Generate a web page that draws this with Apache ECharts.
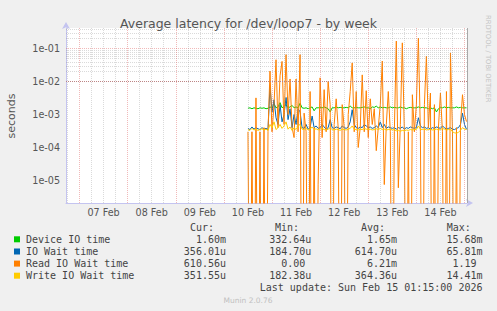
<!DOCTYPE html>
<html><head><meta charset="utf-8">
<script src="https://cdn.jsdelivr.net/npm/echarts@6/dist/echarts.min.js"></script>
<style>html,body{margin:0;padding:0;background:#f0f0f0}#c{width:497px;height:311px}</style>
</head><body><div id="c"></div>
<script>
// ---- data (milliseconds), one sample per hour from 10 Feb 12:00 ----
const firstSample = Date.UTC(2026, 1, 10, 12, 0);
const sampleStepMs = 3600000;
const axisStart = Date.UTC(2026, 1, 6, 17, 15);
const axisEnd = Date.UTC(2026, 1, 15, 1, 15);

const deviceIO_ms = [
  1.55,1.6,1.5,1.6,1.55,1.5,1.6,1.55,1.6,1.5,1.55,
  1.7,1.6,2.1,1.6,1.7,2.3,1.6,1.8,2.0,1.6,1.7,1.9,1.6,1.7,1.6,2.2,
  1.6,1.55,1.6,1.5,1.6,1.7,1.3,1.6,1.6,1.65,1.6,1.7,1.6,1.5,1.2,1.6,1.6,1.7,1.6,1.65,1.6,
  1.6,1.65,1.6,1.8,1.6,1.6,1.65,1.6,1.6,1.65,1.7,1.6,
  1.6,1.5,1.7,1.65,1.8,1.6,1.7,1.6,1.65,1.6,1.6,1.7,1.6,1.65,1.6,1.6,1.7,1.6,1.6,1.5,1.6,1.65,1.6,1.6,
  1.6,1.7,1.6,1.65,1.6,1.6,1.5,1.6,1.5,1.6,1.2,1.5,1.65,1.6,1.7,1.6,1.65,1.6,1.6,1.6,1.7,1.6,1.65,1.6,1.6,1.6
];
const ioWait_ms = [
  0.38,0.35,0.42,0.36,0.40,0.37,0.35,0.40,0.36,0.38,0.35,
  7.4,1.2,2.8,0.8,0.5,2.0,0.6,1.0,3.3,0.7,1.5,0.4,1.0,0.5,1.5,1.2,
  0.4,0.38,0.5,0.36,0.4,0.9,0.4,0.45,0.38,0.4,0.5,0.42,0.36,0.4,0.7,0.4,0.38,0.42,0.4,0.37,0.45,
  0.4,0.38,0.42,0.6,1.4,0.5,0.4,0.38,0.42,0.4,0.5,0.45,
  0.4,0.42,0.38,0.4,0.45,0.4,0.6,0.4,0.5,0.38,0.42,0.4,0.38,0.4,0.36,0.4,0.38,0.42,0.36,0.4,0.38,0.42,0.4,0.38,
  0.4,0.8,0.45,0.4,0.42,0.38,0.4,0.36,0.4,0.38,0.42,0.4,0.38,0.45,0.4,0.36,0.38,0.4,0.36,0.35,0.38,0.4,0.5,1.1,0.5,0.356
];
const readWait_ms = [
  0.3,0,0.3,0,3.2,0,0.3,0,0.4,0,0.3,
  21,0.3,2,46,0.4,15,41,0.5,66,1,12,0.4,0.2,12,0.3,66,
  0,1.1,0.3,0,5,0,0.4,0,0.0077,13,0.2,5.7,0.3,10,2,0,0.5,3,0.4,0,2,
  0.4,0,1,5,37,0.3,5,0.1,0.4,16,0.3,5.3,
  0.2,3,0.5,1.5,0.08,0.4,2,42,0.0075,0.5,5,0.3,0,0.3,170,0.006,0.5,150,0.3,0,0.3,0,4,0.3,
  2,210,0.3,0,2,59,0.4,4.5,0,2,0,0.4,4.5,0.3,0,5,0,74,0.3,0,0.4,0,0.5,4,1,0.61056
];
const writeWait_ms = [
  0.35,0.33,0.38,0.34,0.36,0.33,0.35,0.37,0.34,0.36,0.33,
  0.5,0.4,0.6,0.35,0.4,0.5,0.38,0.45,0.6,0.36,0.42,0.33,0.4,0.35,0.45,0.5,
  0.36,0.35,0.4,0.34,0.36,0.42,0.35,0.37,0.34,0.36,0.38,0.35,0.34,0.36,0.4,0.35,0.34,0.36,0.35,0.33,0.36,
  0.35,0.34,0.36,0.38,0.45,0.36,0.35,0.34,0.36,0.35,0.38,0.36,
  0.35,0.36,0.34,0.35,0.37,0.35,0.38,0.35,0.36,0.34,0.35,0.36,0.34,0.35,0.32,0.33,0.31,0.33,0.32,0.34,0.33,0.35,0.34,0.35,
  0.35,0.45,0.36,0.35,0.37,0.34,0.35,0.36,0.34,0.35,0.36,0.34,0.35,0.38,0.36,0.34,0.35,0.36,0.30,0.28,0.27,0.29,0.33,0.40,0.36,0.3516
];

const seriesNames = ['Device IO time', 'IO Wait time', 'Read IO Wait time', 'Write IO Wait time'];
const seriesColors = ['#00cc00', '#0066b3', '#ff8000', '#ffcc00'];
const curVals = ['1.60m', '356.01u', '610.56u', '351.55u'];
const minVals = ['332.64u', '184.70u', '0.00', '182.38u'];
const avgVals = ['1.65m', '614.70u', '6.21m', '364.36u'];
const maxVals = ['15.68m', '65.81m', '1.19', '14.41m'];
const colHeaders = ['Cur:', 'Min:', 'Avg:', 'Max:'];
const dayLabelTimes = [7,8,9,10,11,12,13,14].map(d => Date.UTC(2026, 1, d, 12, 0));
const monthNames = ['Jan','Feb','Mar','Apr','May','Jun','Jul','Aug','Sep','Oct','Nov','Dec'];
const yMin = 2.065e-6, yMax = 0.4236;
const titleText = 'Average latency for /dev/loop7 - by week';
const lastUpdate = 'Last update: Sun Feb 15 01:15:00 2026';

// ---- build ----
function toSeries(arr) {
  return arr.map((v, i) => [firstSample + i * sampleStepMs, v === 0 ? 1e-12 : v * 1e-3]);
}
const gridMajor = { color: 'rgba(225,100,100,0.45)', type: [1, 1], width: 1 };
const gridMinor = { color: 'rgba(150,150,150,0.35)', type: [1, 1], width: 1 };
const gridLines = [];
for (let n = -6; n <= 0; n++) {
  for (let k = 1; k <= 9; k++) {
    const v = k * Math.pow(10, n);
    if (v <= yMin || v >= yMax) continue;
    gridLines.push({ yAxis: v, lineStyle: k === 1 ? gridMajor : gridMinor });
  }
}
const sixH = 6 * 3600000;
for (let t = Math.ceil(axisStart / sixH) * sixH; t < axisEnd; t += sixH) {
  gridLines.push({ xAxis: t, lineStyle: (t % 86400000 === 0) ? gridMajor : gridMinor });
}
gridLines.push({ xAxis: axisEnd, lineStyle: { color: '#a8a8a8', type: 'solid', width: 1 } });

const mono = '"DejaVu Sans Mono", monospace';
const charW = 6.02;
const colRight = [226, 311.3, 397, 482.5];
const colHeadLeft = [190, 275, 361, 446.7];
const rowY = [239.3, 251.5, 263.6, 275.7];
const graphics = [];
colHeaders.forEach((h, c) => graphics.push({ type: 'text', x: colHeadLeft[c], y: 227.7,
  style: { text: h, font: '10px ' + mono, fill: '#444', align: 'left', verticalAlign: 'middle' } }));
const cols = [curVals, minVals, avgVals, maxVals];
seriesNames.forEach((name, r) => {
  graphics.push({ type: 'rect', shape: { x: 14, y: rowY[r] - 3, width: 6, height: 6 }, style: { fill: seriesColors[r] } });
  graphics.push({ type: 'text', x: 26, y: rowY[r], style: { text: name, font: '10px ' + mono, fill: '#444', align: 'left', verticalAlign: 'middle' } });
  cols.forEach((col, c) => {
    const s = col[r];
    const right = /[0-9]$/.test(s) ? colRight[c] - charW : colRight[c];
    graphics.push({ type: 'text', x: right, y: rowY[r], style: { text: s, font: '10px ' + mono, fill: '#444', align: 'right', verticalAlign: 'middle' } });
  });
});
graphics.push({ type: 'text', x: 482.5, y: 287.3, style: { text: lastUpdate, font: '10px ' + mono, fill: '#444', align: 'right', verticalAlign: 'middle' } });
graphics.push({ type: 'text', x: 248, y: 300.5, style: { text: 'Munin 2.0.76', font: '7.5px "DejaVu Sans"', fill: '#c0c0c0', align: 'center', verticalAlign: 'middle' } });
graphics.push({ type: 'text', x: 488, y: 15, rotation: -Math.PI / 2, style: { text: 'RRDTOOL / TOBI OETIKER', font: '6.8px "DejaVu Sans"', fill: '#c4c4c4', align: 'left', verticalAlign: 'middle' } });
graphics.push({ type: 'text', x: 11, y: 116, rotation: Math.PI / 2, style: { text: 'seconds', font: '11px "DejaVu Sans"', fill: '#555', align: 'center', verticalAlign: 'middle' } });

const dataArrays = [deviceIO_ms, ioWait_ms, readWait_ms, writeWait_ms];
const series = [{
  type: 'line', data: [], silent: true, z: 1,
  markLine: { silent: true, symbol: ['none', 'none'], label: { show: false }, animation: false, data: gridLines }
}];
dataArrays.forEach((arr, i) => series.push({
  name: seriesNames[i], type: 'line', data: toSeries(arr), showSymbol: false, symbol: 'none',
  lineStyle: { width: 1, color: seriesColors[i] }, itemStyle: { color: seriesColors[i] },
  z: 2 + i, clip: true, animation: false
}));

const chart = echarts.init(document.getElementById('c'), null, { renderer: 'svg' });
chart.setOption({
  backgroundColor: '#f0f0f0',
  animation: false,
  title: { text: titleText, left: 'center', top: 12, textStyle: { fontSize: 12.5, fontWeight: 'normal', color: '#555', fontFamily: 'DejaVu Sans' } },
  grid: { left: 66, right: 30, top: 28, bottom: 108, show: true, backgroundColor: '#ffffff', borderWidth: 0 },
  xAxis: {
    type: 'value', min: axisStart, max: axisEnd,
    axisLine: { show: true, lineStyle: { color: '#c4c4f0', width: 1 }, symbol: ['none', 'arrow'], symbolSize: [6, 7], symbolOffset: [0, 6] },
    axisTick: { show: false }, splitLine: { show: false },
    axisLabel: {
      customValues: dayLabelTimes, margin: 4, color: '#555', fontSize: 9.6, fontFamily: 'DejaVu Sans',
      formatter: v => { const d = new Date(v); return String(d.getUTCDate()).padStart(2, '0') + ' ' + monthNames[d.getUTCMonth()]; }
    }
  },
  yAxis: {
    type: 'log', logBase: 10, min: yMin, max: yMax,
    axisLine: { show: true, lineStyle: { color: '#c4c4f0', width: 1 }, symbol: ['none', 'arrow'], symbolSize: [6, 7], symbolOffset: [0, 6] },
    axisTick: { show: false }, splitLine: { show: false }, minorSplitLine: { show: false },
    axisLabel: {
      showMinLabel: false, showMaxLabel: false, margin: 6, color: '#555', fontSize: 9.6, fontFamily: 'DejaVu Sans',
      formatter: v => {
        const e = Math.log10(v), r = Math.round(e);
        if (Math.abs(e - r) > 1e-6) return '';
        return '1e' + (r < 0 ? '-' : '+') + String(Math.abs(r)).padStart(2, '0');
      }
    }
  },
  graphic: graphics,
  series: series
});
</script></body></html>
